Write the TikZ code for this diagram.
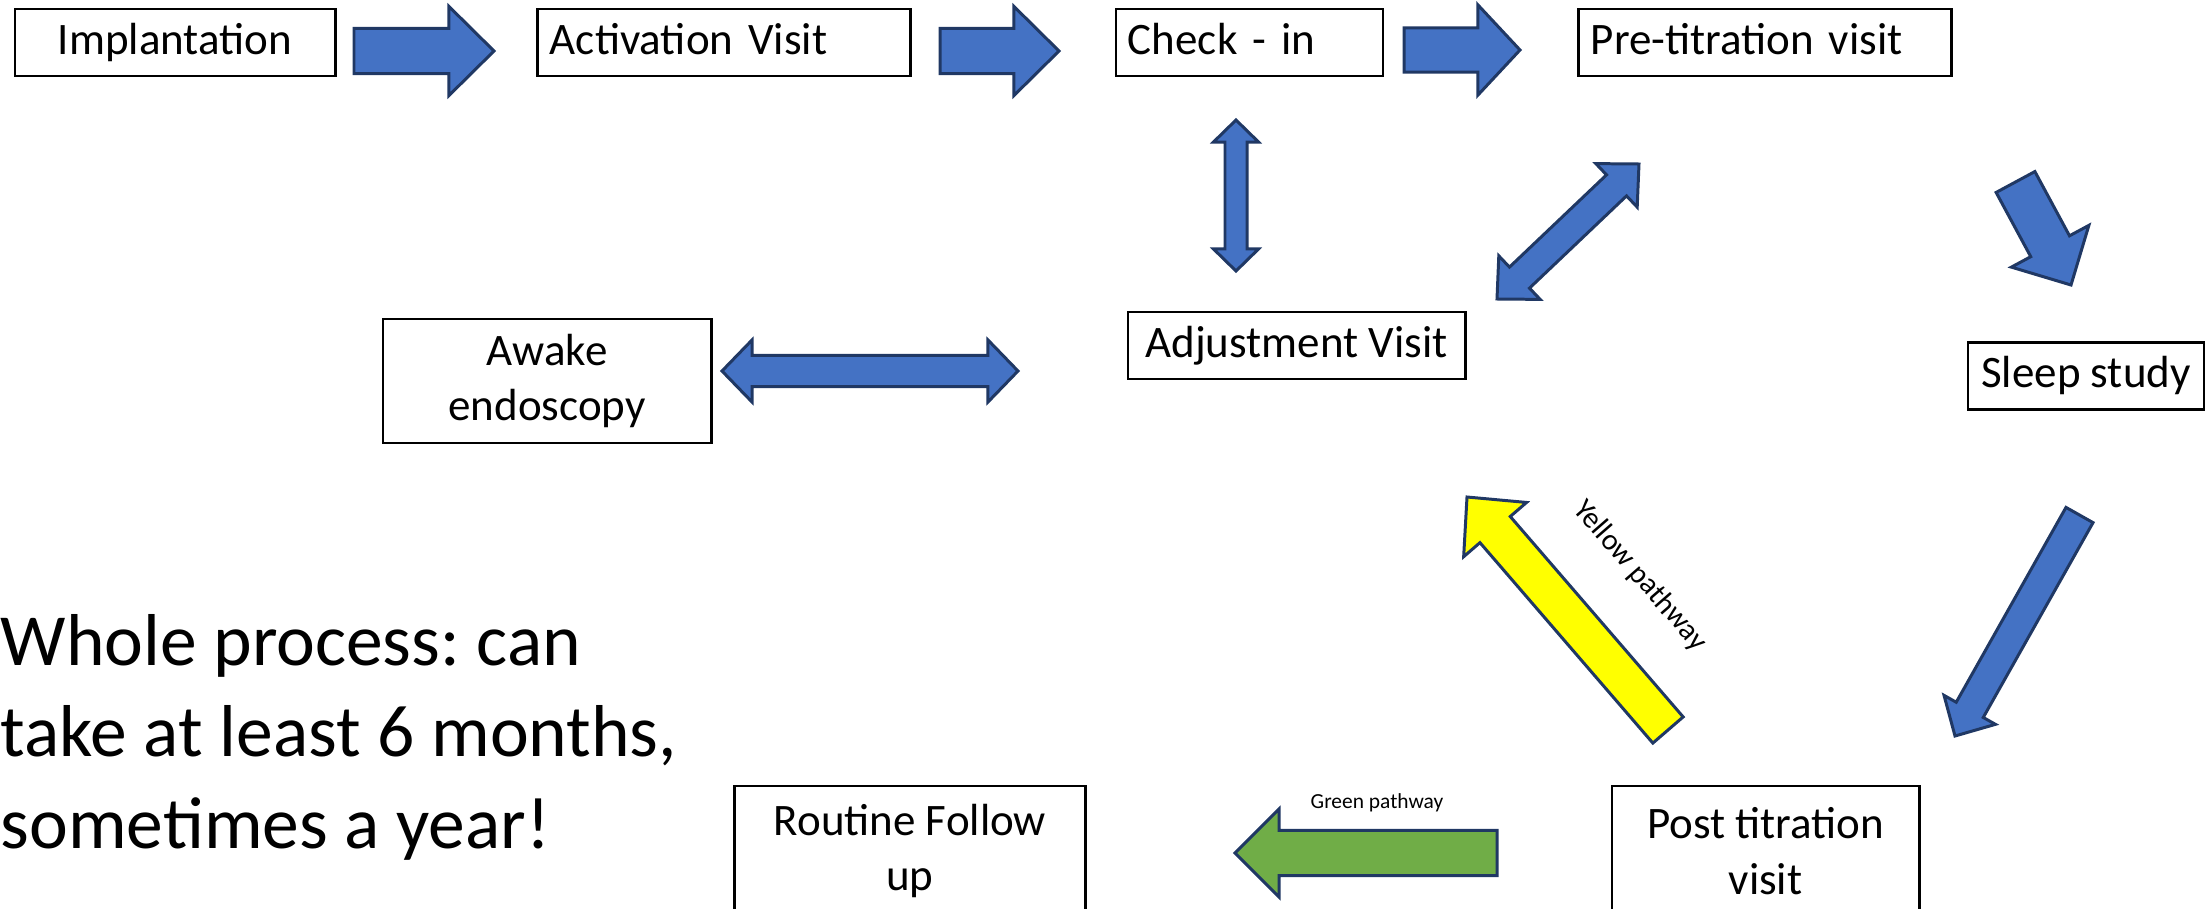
\documentclass[tikz,border=0pt]{standalone}
\usepackage{fontspec}
\setmainfont{Carlito}
\usetikzlibrary{calc}
\frenchspacing

\definecolor{arrowblue}{HTML}{4472C4}
\definecolor{arrowline}{HTML}{203864}
\definecolor{pathyellow}{HTML}{FFFF00}
\definecolor{pathgreen}{HTML}{70AD47}

\newcommand{\stagefont}{\fontsize{12.8}{15.9}\selectfont}

% block arrow: [style]{tail}{tip}{half shaft}{half head}{head length}
\newcommand{\blockarrow}[6][]{%
  \coordinate (ba-h) at ($(#3)!#6!(#2)$);
  \draw[arrowbody,#1] ($(#2)!#4!90:(#3)$) -- ($(ba-h)!#4!90:(#3)$) -- ($(ba-h)!#5!90:(#3)$)
    -- (#3) -- ($(ba-h)!#5!-90:(#3)$) -- ($(ba-h)!#4!-90:(#3)$) -- ($(#2)!#4!-90:(#3)$) -- cycle;
}
% same with a head at both ends
\newcommand{\twowayarrow}[6][]{%
  \coordinate (ba-p) at ($(#2)!#6!(#3)$);
  \coordinate (ba-q) at ($(#3)!#6!(#2)$);
  \draw[arrowbody,#1] (#2) -- ($(ba-p)!#5!90:(#3)$) -- ($(ba-p)!#4!90:(#3)$) -- ($(ba-q)!#4!90:(#3)$)
    -- ($(ba-q)!#5!90:(#3)$) -- (#3) -- ($(ba-q)!#5!-90:(#3)$) -- ($(ba-q)!#4!-90:(#3)$)
    -- ($(ba-p)!#4!-90:(#3)$) -- ($(ba-p)!#5!-90:(#3)$) -- cycle;
}

\tikzset{
  stage/.style={draw, line width=0.8pt, inner sep=0pt, minimum height=0.67cm, font=\stagefont,
    text height=0.32cm, text depth=0.09cm},
  stageleft/.style={stage, inner xsep=0.12cm, text width=#1, align=left},
  stagetwo/.style={draw, line width=0.8pt, inner sep=0pt, font=\stagefont, align=center},
  arrowbody/.style={draw=arrowline, fill=arrowblue, line width=0.85pt},
}

\begin{document}
\begin{tikzpicture}[x=0.01cm, y=-0.01cm]

\useasboundingbox (0,0) rectangle (2208,909);

% stages
\node[stage, minimum width=3.2cm] (impl) at (175,42.5) {Implantation};
\node[stageleft=3.48cm] (act) at (724,42.5) {Activation Visit};
\node[stageleft=2.43cm] (check) at (1249.5,42.5) {Check - in};
\node[stageleft=3.48cm] (pre) at (1765,42.5) {Pre-titration visit};
\node[stage, minimum width=2.36cm] (sleep) at (2086,376) {Sleep study};
\node[stage, minimum width=3.37cm] (adj) at (1296.5,345.5) {Adjustment Visit};
\node[stagetwo, minimum width=3.28cm, minimum height=1.24cm] (awake) at (547,381) {Awake\\endoscopy};
\node[stagetwo, minimum width=3.07cm, minimum height=1.3cm] (post) at (1765.5,851) {Post titration\\visit};
\node[stagetwo, minimum width=3.5cm, minimum height=1.3cm] (routine) at (910,851) {Routine Follow\\up};

% arrow ends
\coordinate (impl-out) at (354,51);     \coordinate (act-in) at (494,51);
\coordinate (act-out) at (940,51);      \coordinate (check-in) at (1059,51);
\coordinate (check-out) at (1404,50);   \coordinate (pre-in) at (1520,50);
\coordinate (check-adj-a) at (1236,120); \coordinate (check-adj-b) at (1236,271);
\coordinate (adj-pre-a) at (1497,299);  \coordinate (adj-pre-b) at (1639,164);
\coordinate (awake-adj-a) at (722,371); \coordinate (awake-adj-b) at (1018,371);
\coordinate (pre-out) at (2015.5,182);  \coordinate (sleep-in) at (2071,285);
\coordinate (sleep-out) at (2079.5,515); \coordinate (post-in) at (1955,736);
\coordinate (yellow-out) at (1668,730); \coordinate (yellow-in) at (1467,497);
\coordinate (green-out) at (1497,853);  \coordinate (green-in) at (1235,853);

\blockarrow{impl-out}{act-in}{0.225cm}{0.445cm}{0.45cm}
\blockarrow{act-out}{check-in}{0.225cm}{0.445cm}{0.45cm}
\blockarrow{check-out}{pre-in}{0.22cm}{0.45cm}{0.42cm}
\blockarrow{pre-out}{sleep-in}{0.22cm}{0.44cm}{0.44cm}
\blockarrow{sleep-out}{post-in}{0.155cm}{0.295cm}{0.30cm}
\blockarrow[fill=pathyellow]{yellow-out}{yellow-in}{0.20cm}{0.415cm}{0.43cm}
\blockarrow[fill=pathgreen]{green-out}{green-in}{0.225cm}{0.44cm}{0.44cm}

\twowayarrow{check-adj-a}{check-adj-b}{0.11cm}{0.225cm}{0.22cm}
\twowayarrow{adj-pre-a}{adj-pre-b}{0.145cm}{0.30cm}{0.31cm}
\twowayarrow{awake-adj-a}{awake-adj-b}{0.155cm}{0.31cm}{0.30cm}

% labels
\node[rotate=-49, font=\fontsize{8.5}{10}\selectfont] (yellow-lbl) at (1640,576) {Yellow pathway};
\node[font=\fontsize{6.1}{7}\selectfont] (green-lbl) at (1377,803) {Green pathway};
\node[anchor=west, inner sep=0pt, align=left, font=\fontsize{20.9}{26}\selectfont] (note) at (0,737)
  {Whole process: can\\take at least 6 months,\\sometimes a year!};

\end{tikzpicture}
\end{document}
